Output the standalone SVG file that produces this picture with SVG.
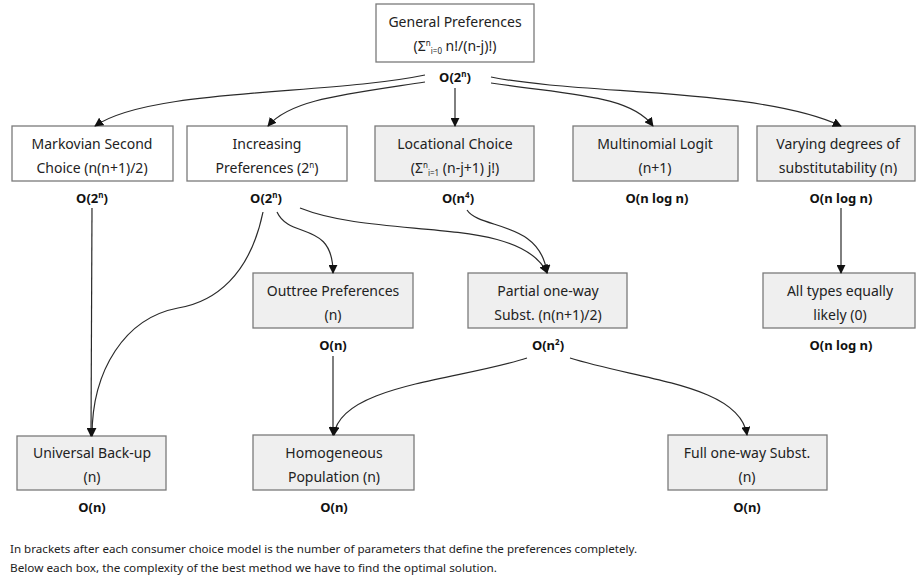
<svg xmlns="http://www.w3.org/2000/svg" width="916" height="579" viewBox="0 0 916 579">
<style>
.box{stroke:#7a7a7a;stroke-width:1.3;}
.w{fill:#ffffff;}
.g{fill:#efefef;}
.t{font-family:"Noto Sans","Liberation Sans",sans-serif;font-size:14px;fill:#222;text-anchor:middle;}
.o{font-family:"Noto Sans","Liberation Sans",sans-serif;font-size:13px;font-weight:bold;fill:#111;text-anchor:middle;}
.f{font-family:"Noto Sans","Liberation Sans",sans-serif;font-size:10.5px;fill:#222;}
.c{fill:none;stroke:#2a2a2a;stroke-width:1.2;}
.a{marker-end:url(#arr);}
</style>
<defs>
<marker id="arr" viewBox="0 0 10 10" refX="9" refY="5" markerWidth="9" markerHeight="9" markerUnits="userSpaceOnUse" orient="auto">
<path d="M0,0 L10,5 L0,10 z" fill="#111"/>
</marker>
</defs>
<rect width="916" height="579" fill="#fff"/>

<g id="general">
<rect class="box w" x="376" y="4" width="158" height="58"/>
<text class="t" x="455" y="27">General Preferences</text>
<text class="t" x="455" y="51">(Σ<tspan font-size="8" dy="-5">n</tspan><tspan font-size="8" dy="8">i=0</tspan><tspan dy="-3"> n!/(n-j)!)</tspan></text>
<text class="o" x="455" y="82">O(2<tspan font-size="8" dy="-5">n</tspan><tspan dy="5">)</tspan></text>
</g>

<g id="markovian">
<rect class="box w" x="12" y="126" width="161" height="55"/>
<text class="t" x="92" y="149">Markovian Second</text>
<text class="t" x="92" y="173">Choice (n(n+1)/2)</text>
<text class="o" x="92" y="203">O(2<tspan font-size="8" dy="-5">n</tspan><tspan dy="5">)</tspan></text>
</g>

<g id="increasing">
<rect class="box w" x="187" y="126" width="160" height="55"/>
<text class="t" x="267" y="149">Increasing</text>
<text class="t" x="267" y="173">Preferences (2<tspan font-size="8" dy="-5">n</tspan><tspan dy="5">)</tspan></text>
<text class="o" x="266" y="203">O(2<tspan font-size="8" dy="-5">n</tspan><tspan dy="5">)</tspan></text>
</g>

<g id="locational">
<rect class="box g" x="375" y="126" width="159" height="55"/>
<text class="t" x="455" y="149">Locational Choice</text>
<text class="t" x="455" y="173">(Σ<tspan font-size="8" dy="-5">n</tspan><tspan font-size="8" dy="8">i=1</tspan><tspan dy="-3"> (n-j+1) j!)</tspan></text>
<text class="o" x="458" y="203">O(n<tspan font-size="8" dy="-5">4</tspan><tspan dy="5">)</tspan></text>
</g>

<g id="multinomial">
<rect class="box g" x="573" y="126" width="165" height="55"/>
<text class="t" x="655" y="149">Multinomial Logit</text>
<text class="t" x="655" y="173">(n+1)</text>
<text class="o" x="657" y="203">O(n log n)</text>
</g>

<g id="varying">
<rect class="box g" x="757" y="126" width="158" height="55"/>
<text class="t" x="838" y="149">Varying degrees of</text>
<text class="t" x="838" y="173">substitutability (n)</text>
<text class="o" x="841" y="203">O(n log n)</text>
</g>

<g id="outtree">
<rect class="box g" x="253" y="273" width="160" height="55"/>
<text class="t" x="333" y="296">Outtree Preferences</text>
<text class="t" x="333" y="320">(n)</text>
<text class="o" x="333" y="350">O(n)</text>
</g>

<g id="partial">
<rect class="box g" x="468" y="273" width="159" height="55"/>
<text class="t" x="548" y="296">Partial one-way</text>
<text class="t" x="548" y="320">Subst. (n(n+1)/2)</text>
<text class="o" x="548" y="350">O(n<tspan font-size="8" dy="-5">2</tspan><tspan dy="5">)</tspan></text>
</g>

<g id="alltypes">
<rect class="box g" x="763" y="273" width="152" height="55"/>
<text class="t" x="840" y="296">All types equally</text>
<text class="t" x="840" y="320">likely (0)</text>
<text class="o" x="841" y="350">O(n log n)</text>
</g>

<g id="universal">
<rect class="box g" x="17" y="436" width="149" height="54"/>
<text class="t" x="92" y="458">Universal Back-up</text>
<text class="t" x="92" y="482">(n)</text>
<text class="o" x="92" y="512">O(n)</text>
</g>

<g id="homogeneous">
<rect class="box g" x="253" y="435" width="161" height="55"/>
<text class="t" x="334" y="458">Homogeneous</text>
<text class="t" x="334" y="482">Population (n)</text>
<text class="o" x="334" y="512">O(n)</text>
</g>

<g id="full">
<rect class="box g" x="668" y="435" width="159" height="55"/>
<text class="t" x="747" y="458">Full one-way Subst.</text>
<text class="t" x="747" y="482">(n)</text>
<text class="o" x="747" y="512">O(n)</text>
</g>

<g id="connectors">
<path class="c a" d="M425,75 C330,95 150,88 95,126"/>
<path class="c a" d="M425,82 C340,95 290,100 268,126"/>
<path class="c a" d="M455,88 L455,126"/>
<path class="c a" d="M491,77 C580,95 760,88 841,126"/>
<path class="c a" d="M491,83 C570,95 630,95 653,126"/>
<path class="c a" d="M92,208 L91,436"/>
<path class="c a" d="M263,212 C250,275 215,302 178,308 C125,318 92,370 92,436"/>
<path class="c a" d="M277,212 C290,240 333,220 333,273"/>
<path class="c a" d="M300,208 C380,240 520,215 547,273"/>
<path class="c a" d="M467,210 C480,230 540,220 547,273"/>
<path class="c a" d="M841,208 L841,273"/>
<path class="c a" d="M333,356 L333,435"/>
<path class="c a" d="M527,358 C460,380 340,385 334,435"/>
<path class="c a" d="M570,358 C640,380 740,385 747,435"/>
</g>

<text class="f" x="10" y="553" textLength="627" lengthAdjust="spacingAndGlyphs">In brackets after each consumer choice model is the number of parameters that define the preferences completely.</text>
<text class="f" x="10" y="572" textLength="487" lengthAdjust="spacingAndGlyphs">Below each box, the complexity of the best method we have to find the optimal solution.</text>
</svg>
